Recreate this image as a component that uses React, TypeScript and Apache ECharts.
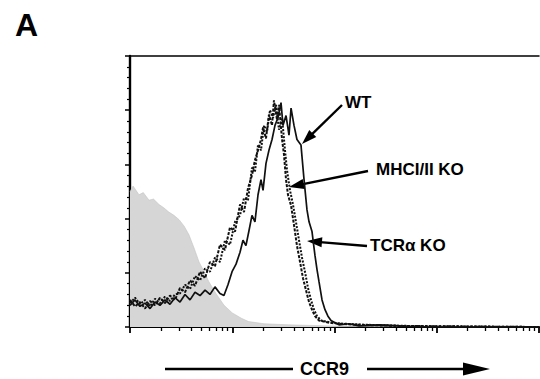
import React, { useEffect, useRef } from "react";
import * as echarts from "echarts";

// x values are log10 of CCR9 fluorescence intensity (decades 10^0 .. 10^4), y values are cell counts
const isotypeX = [0, 0.03, 0.088, 0.13, 0.186, 0.23, 0.284, 0.33, 0.38, 0.43, 0.48, 0.53, 0.577, 0.63, 0.675, 0.72, 0.77, 0.84, 0.92, 1.0, 1.09, 1.16, 1.31, 1.55, 1.95, 2.24, 4];
const isotypeY = [125, 130, 122, 124, 117, 118, 113, 110, 106, 103, 99, 93, 85, 72, 60, 52, 42, 31, 20, 13, 8, 5, 3, 2, 1, 0.5, 0];

const wtX = [0, 0.049, 0.098, 0.147, 0.196, 0.245, 0.293, 0.342, 0.391, 0.44, 0.489, 0.538, 0.587, 0.636, 0.685, 0.734, 0.782, 0.831, 0.88, 0.919, 0.958, 0.998, 1.037, 1.076, 1.105, 1.134, 1.164, 1.193, 1.222, 1.252, 1.281, 1.301, 1.33, 1.359, 1.389, 1.418, 1.447, 1.477, 1.496, 1.526, 1.555, 1.575, 1.604, 1.633, 1.672, 1.702, 1.731, 1.751, 1.78, 1.809, 1.829, 1.848, 1.878, 1.907, 1.936, 1.966, 2.005, 2.044, 2.142, 2.24, 2.435, 2.631, 2.924, 4];
const wtY = [20, 25, 19, 22, 17, 23, 20, 25, 21, 27, 23, 30, 25, 32, 29, 34, 30, 37, 31, 29, 39, 51, 58, 69, 80, 75, 89, 103, 97, 122, 136, 126, 151, 163, 173, 186, 193, 207, 186, 195, 177, 202, 186, 173, 168, 136, 108, 97, 88, 66, 53, 42, 25, 16, 10, 6, 4, 2, 3, 1, 2, 1, 0, 0];

const mhcX = [0, 0.049, 0.098, 0.147, 0.196, 0.245, 0.293, 0.342, 0.391, 0.44, 0.489, 0.538, 0.587, 0.636, 0.685, 0.734, 0.782, 0.831, 0.88, 0.929, 0.978, 1.027, 1.076, 1.115, 1.154, 1.193, 1.222, 1.252, 1.281, 1.301, 1.33, 1.359, 1.389, 1.408, 1.438, 1.457, 1.487, 1.506, 1.526, 1.545, 1.575, 1.604, 1.633, 1.663, 1.692, 1.721, 1.751, 1.78, 1.809, 1.848, 1.897, 1.946, 2.044, 2.24, 2.631, 4];
const mhcY = [25, 19, 23, 17, 24, 20, 27, 22, 29, 25, 36, 32, 43, 38, 51, 45, 60, 56, 76, 71, 92, 88, 113, 106, 128, 140, 154, 163, 173, 184, 174, 196, 186, 209, 191, 205, 173, 159, 136, 122, 112, 94, 75, 60, 45, 34, 23, 16, 10, 6, 5, 4, 3, 2, 1, 0];

const tcrX = [0, 0.049, 0.098, 0.147, 0.196, 0.245, 0.293, 0.342, 0.391, 0.44, 0.489, 0.538, 0.587, 0.636, 0.685, 0.734, 0.782, 0.831, 0.88, 0.929, 0.978, 1.027, 1.076, 1.115, 1.154, 1.193, 1.222, 1.252, 1.281, 1.311, 1.34, 1.369, 1.399, 1.428, 1.457, 1.487, 1.516, 1.535, 1.565, 1.594, 1.623, 1.653, 1.682, 1.711, 1.741, 1.77, 1.8, 1.829, 1.868, 1.917, 1.976, 2.093, 2.337, 2.729, 4];
const tcrY = [22, 27, 21, 25, 19, 26, 22, 28, 24, 30, 31, 39, 35, 47, 43, 54, 51, 64, 60, 80, 76, 97, 103, 119, 117, 147, 143, 168, 163, 186, 180, 200, 193, 205, 182, 193, 163, 145, 126, 113, 97, 80, 64, 51, 36, 25, 16, 10, 6, 5, 4, 3, 2, 1, 0];

const majorDecades = [0, 1, 2, 3, 4];
const minorMultipliers = [2, 3, 4, 5, 6, 7, 8, 9];

const seriesNames = ["WT", "MHCI/II KO", "TCRα KO"];
const axisTitle = "CCR9";
const panelLetter = "A";

const zip = (xs: number[], ys: number[]) => xs.map((x, i) => [x, ys[i]]);

function arrow(x1: number, y1: number, x2: number, y2: number, head = 15, half = 5, lw = 2.4) {
  const dx = x2 - x1, dy = y2 - y1;
  const len = Math.hypot(dx, dy);
  const ux = dx / len, uy = dy / len;
  const px = -uy, py = ux;
  const bx = x2 - ux * head, by = y2 - uy * head;
  return [
    { type: "line", shape: { x1, y1, x2: bx + ux * 2, y2: by + uy * 2 }, style: { stroke: "#000", lineWidth: lw } },
    {
      type: "polygon",
      shape: { points: [[x2, y2], [bx + px * half, by + py * half], [bx - px * half, by - py * half]] },
      style: { fill: "#000" },
    },
  ];
}

export default function App() {
  const ref = useRef<HTMLDivElement>(null);
  useEffect(() => {
    if (!ref.current) return;
    const chart = echarts.init(ref.current, undefined, { renderer: "svg" });
    const minorTicks: number[] = [];
    for (let d = 0; d < 4; d++) minorMultipliers.forEach((m) => minorTicks.push(d + Math.log10(m)));
    const font = "'Liberation Sans', Arial, Helvetica, sans-serif";
    const label = (text: string, x: number, y: number, size = 17) => ({
      type: "text",
      x,
      y,
      style: { text, fill: "#000", font: `bold ${size}px ${font}`, textVerticalAlign: "middle" },
    });
    const baseX = {
      type: "value",
      min: 0,
      max: 4,
      position: "bottom",
      splitLine: { show: false },
      axisLabel: { show: false },
    };
    chart.setOption({
      animation: false,
      backgroundColor: "#fff",
      grid: { left: 130, right: 1, top: 56, bottom: 52 },
      xAxis: [
        {
          ...baseX,
          axisLine: { show: true, lineStyle: { color: "#000", width: 2.2 } },
          axisTick: { show: true, inside: false, length: 6, lineStyle: { color: "#000", width: 1.8 }, customValues: majorDecades },
        },
        {
          ...baseX,
          axisLine: { show: false },
          axisTick: { show: true, inside: false, length: 4, lineStyle: { color: "#000", width: 1.3 }, customValues: minorTicks },
        },
        {
          ...baseX,
          position: "top",
          axisLine: { show: true, lineStyle: { color: "#000", width: 1.5 } },
          axisTick: { show: false },
        },
      ],
      yAxis: {
        type: "value",
        min: 0,
        max: 250,
        interval: 50,
        axisLine: { show: true, lineStyle: { color: "#000", width: 2.4 } },
        axisTick: { show: true, inside: false, length: 5, lineStyle: { color: "#000", width: 1.5 } },
        minorTick: { show: true, splitNumber: 5, length: 3, lineStyle: { color: "#000", width: 1.2 } },
        axisLabel: { show: false },
        splitLine: { show: false },
      },
      series: [
        {
          name: "Isotype",
          type: "line",
          data: zip(isotypeX, isotypeY),
          symbol: "none",
          lineStyle: { width: 0.6, color: "#c4c4c4" },
          areaStyle: { color: "#d6d6d6", opacity: 1 },
          z: 1,
        },
        {
          name: seriesNames[0],
          type: "line",
          data: zip(wtX, wtY),
          symbol: "none",
          lineStyle: { width: 1.7, color: "#111" },
          z: 4,
        },
        {
          name: seriesNames[1],
          type: "line",
          data: zip(mhcX, mhcY),
          symbol: "none",
          lineStyle: { width: 2, color: "#111", type: [3, 1.5] },
          z: 3,
        },
        {
          name: seriesNames[2],
          type: "line",
          data: zip(tcrX, tcrY),
          symbol: "none",
          lineStyle: { width: 2, color: "#111", type: [2, 1.5] },
          z: 3,
        },
      ],
      graphic: [
        label(panelLetter, 15, 25, 32),
        label(seriesNames[0], 345, 102),
        label(seriesNames[1], 376, 169),
        label(seriesNames[2], 370, 245),
        ...arrow(342, 105, 302, 144),
        ...arrow(368, 171, 289, 187),
        ...arrow(367, 246, 307, 241),
        label(axisTitle, 300, 369, 18),
        { type: "line", shape: { x1: 165, y1: 369, x2: 293, y2: 369 }, style: { stroke: "#000", lineWidth: 2.4 } },
        ...arrow(367, 369, 490, 369, 27, 6.5, 2.4),
      ],
    } as any);
    return () => chart.dispose();
  }, []);
  return <div ref={ref} style={{ position: "fixed", left: 0, top: 0, width: 540, height: 379, background: "#fff" }} />;
}
